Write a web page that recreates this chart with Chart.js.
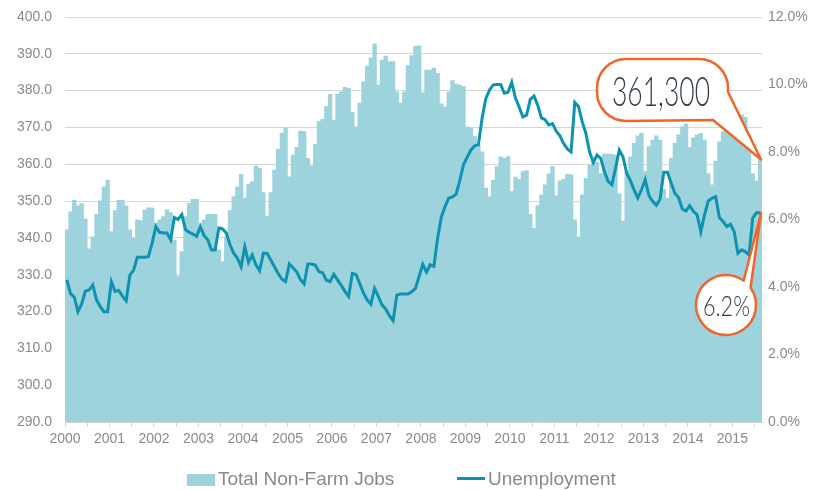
<!DOCTYPE html>
<html>
<head>
<meta charset="utf-8">
<title>Total Non-Farm Jobs and Unemployment</title>
<script src="https://cdn.jsdelivr.net/npm/chart.js@4.4.1/dist/chart.umd.min.js"></script>
<style>
  html, body { margin: 0; padding: 0; background: #fff; }
  canvas { display: block; }
</style>
</head>
<body>
<canvas id="chart" width="839" height="490"></canvas>
<script>
// categories
const years = ['2000', '2001', '2002', '2003', '2004', '2005', '2006', '2007',
               '2008', '2009', '2010', '2011', '2012', '2013', '2014', '2015'];
const months = ['Jan', 'Feb', 'Mar', 'Apr', 'May', 'Jun', 'Jul', 'Aug', 'Sep', 'Oct', 'Nov', 'Dec'];

// total non-farm jobs, thousands (one row per year, Jan..Dec)
const jobs = [
  342.2, 347.1, 350.2, 348.7, 349.3, 345.2, 337.0, 340.3, 346.4, 350.1, 353.9, 355.7,
  341.7, 347.4, 350.2, 350.2, 348.7, 342.2, 339.9, 344.9, 344.7, 347.6, 348.2, 348.2,
  344.0, 344.9, 345.8, 347.6, 346.9, 339.4, 329.7, 336.3, 345.8, 349.4, 350.5, 350.5,
  344.0, 344.9, 346.4, 346.4, 346.4, 336.7, 333.5, 340.3, 347.4, 351.2, 353.9, 357.3,
  350.8, 354.6, 355.3, 359.5, 358.9, 352.3, 345.9, 352.3, 358.4, 364.1, 368.4, 369.9,
  356.6, 362.5, 364.6, 369.0, 368.9, 361.6, 359.5, 365.4, 371.6, 372.2, 375.7, 379.0,
  372.0, 379.0, 379.7, 380.9, 380.6, 374.1, 370.2, 376.6, 382.4, 386.7, 388.9, 392.7,
  381.5, 388.3, 389.4, 387.9, 387.9, 379.7, 376.6, 379.7, 386.8, 389.5, 392.0, 392.2,
  379.5, 385.6, 385.6, 386.1, 384.7, 376.4, 375.6, 379.7, 382.7, 381.8, 381.5, 381.1,
  370.2, 369.9, 367.5, 365.2, 363.4, 353.5, 351.2, 355.7, 359.4, 362.0, 361.6, 362.1,
  352.6, 356.5, 355.9, 358.0, 358.3, 346.4, 342.6, 348.8, 351.7, 354.4, 357.4, 359.4,
  351.5, 355.5, 355.9, 357.3, 357.1, 344.9, 340.3, 351.7, 356.2, 359.8, 360.5, 360.5,
  357.5, 362.8, 362.8, 362.8, 362.5, 352.0, 344.6, 358.0, 362.0, 365.7, 367.7, 368.4,
  358.0, 364.8, 366.6, 367.7, 366.6, 353.2, 350.8, 361.6, 365.7, 368.0, 370.2, 370.9,
  364.5, 367.2, 368.0, 368.4, 366.6, 357.5, 354.4, 360.9, 366.1, 368.9, 369.0, 370.7,
  368.0, 370.0, 373.4, 372.8, 367.7, 357.5, 355.5, 361.3
];

// unemployment rate, percent
const unemployment = [
  4.21, 3.80, 3.70, 3.27, 3.50, 3.88, 3.91, 4.06, 3.62, 3.42, 3.27, 3.27,
  4.16, 3.87, 3.90, 3.73, 3.59, 4.35, 4.50, 4.88, 4.88, 4.88, 4.90, 5.30,
  5.79, 5.62, 5.60, 5.60, 5.40, 6.06, 6.00, 6.15, 5.70, 5.62, 5.57, 5.50,
  5.78, 5.53, 5.40, 5.10, 5.10, 5.75, 5.72, 5.60, 5.25, 5.00, 4.85, 4.60,
  5.19, 4.73, 4.95, 4.66, 4.48, 5.00, 5.00, 4.80, 4.60, 4.40, 4.23, 4.16,
  4.68, 4.57, 4.45, 4.22, 4.09, 4.68, 4.68, 4.65, 4.45, 4.42, 4.20, 4.16,
  4.38, 4.21, 4.05, 3.87, 3.72, 4.40, 4.37, 4.10, 3.82, 3.62, 3.49, 3.96,
  3.72, 3.47, 3.35, 3.15, 3.00, 3.76, 3.79, 3.79, 3.79, 3.86, 3.95, 4.31,
  4.67, 4.44, 4.66, 4.61, 5.44, 6.07, 6.38, 6.63, 6.67, 6.75, 7.16, 7.63,
  7.85, 8.06, 8.18, 8.21, 9.00, 9.58, 9.84, 9.99, 10.00, 10.00, 9.74, 9.77,
  10.07, 9.60, 9.33, 9.04, 9.09, 9.56, 9.66, 9.39, 9.01, 8.96, 8.80, 8.84,
  8.62, 8.48, 8.25, 8.09, 8.00, 9.47, 9.35, 8.90, 8.55, 8.00, 7.69, 7.91,
  7.81, 7.42, 7.13, 7.03, 7.52, 8.06, 7.86, 7.37, 7.15, 6.88, 6.64, 6.88,
  7.18, 6.71, 6.54, 6.42, 6.60, 7.40, 7.40, 7.08, 6.78, 6.65, 6.31, 6.25,
  6.41, 6.24, 6.14, 5.64, 6.14, 6.55, 6.63, 6.68, 6.06, 5.94, 5.79, 5.86,
  5.64, 5.00, 5.10, 5.05, 4.95, 6.04, 6.20, 6.20
];

const labels = [];
years.forEach(y => months.forEach(m => labels.push(m + ' ' + y)));
labels.length = jobs.length;

const barColor = '#9dd3dc';
const lineColor = '#0d93b0';
const orange = '#f0652b';
const axisText = '#8a8a8a';
const calloutText = '#323f48';
const last = jobs.length - 1;

// callout text: "361,300" and "6.2%"
const jobsCallout = Math.round(jobs[last] * 1000).toLocaleString('en-US');
const rateCallout = unemployment[last].toFixed(1) + '%';

function fitText(ctx, text, cx, baseY, size, width) {
  ctx.save();
  ctx.font = '300 ' + size + 'px Lato, Roboto, sans-serif';
  const w = ctx.measureText(text).width;
  ctx.translate(cx, baseY);
  ctx.scale(width / w, 1);
  ctx.textAlign = 'center';
  ctx.textBaseline = 'alphabetic';
  ctx.fillStyle = calloutText;
  ctx.fillText(text, 0, 0);
  ctx.restore();
}

// speech bubbles pointing at the last bar and the last line point
const callouts = {
  id: 'callouts',
  afterDatasetsDraw(chart) {
    const ctx = chart.ctx;
    const bar = chart.getDatasetMeta(1).data[last];
    const pt = chart.getDatasetMeta(0).data[last];
    const tipA = { x: bar.x + bar.width / 2 - 1, y: bar.y };
    const tipB = { x: pt.x + 1, y: pt.y };

    ctx.save();
    ctx.lineWidth = 2.5;
    ctx.strokeStyle = orange;
    ctx.fillStyle = '#fff';
    ctx.lineJoin = 'round';

    // pill with tail
    const x0 = 597, y0 = 59, x1 = 728, y1 = 121, r = 29;
    ctx.beginPath();
    ctx.moveTo(x0 + r, y0);
    ctx.lineTo(x1 - r, y0);
    ctx.arcTo(x1, y0, x1, y0 + r, r);
    ctx.lineTo(x1, 92);
    ctx.lineTo(tipA.x, tipA.y);
    ctx.lineTo(713, y1 - 1);
    ctx.lineTo(x0 + r, y1);
    ctx.arcTo(x0, y1, x0, y1 - r, r);
    ctx.lineTo(x0, y0 + r);
    ctx.arcTo(x0, y0, x0 + r, y0, r);
    ctx.closePath();
    ctx.fill();
    ctx.stroke();

    // circle with tail
    const cx = 726, cy = 305, cr = 30;
    const a1 = -35 * Math.PI / 180, a2 = -54 * Math.PI / 180;
    ctx.beginPath();
    ctx.arc(cx, cy, cr, a1, a2, false);
    ctx.lineTo(tipB.x, tipB.y);
    ctx.closePath();
    ctx.fill();
    ctx.stroke();
    ctx.restore();

    fitText(ctx, jobsCallout, 661, 106, 42, 98);
    fitText(ctx, rateCallout, 726.5, 316, 28, 47);
  }
};

// legend under the axis
const bottomLegend = {
  id: 'bottomLegend',
  afterDraw(chart) {
    const ctx = chart.ctx;
    const ds = chart.data.datasets;
    ctx.save();
    ctx.font = '19px "Liberation Sans", Arial, sans-serif';
    ctx.textBaseline = 'alphabetic';
    ctx.fillStyle = ds[1].backgroundColor;
    ctx.fillRect(187, 474, 28, 12);
    ctx.fillStyle = axisText;
    ctx.fillText(ds[1].label, 218, 485);
    ctx.strokeStyle = ds[0].borderColor;
    ctx.lineWidth = 3;
    ctx.beginPath();
    ctx.moveTo(457, 478.5);
    ctx.lineTo(485, 478.5);
    ctx.stroke();
    ctx.fillText(ds[0].label, 488, 485);
    ctx.restore();
  }
};

// fixed axis sizes so the plot area sits where the reference has it
function fixVertical(width) {
  return (s) => {
    s.width = width;
    s.paddingTop = 0;
    s.paddingBottom = 0;
  };
}

const config = {
  data: {
    labels: labels,
    datasets: [{
      type: 'line',
      label: 'Unemployment',
      data: unemployment,
      yAxisID: 'y1',
      borderColor: lineColor,
      borderWidth: 3,
      pointRadius: 0,
      tension: 0,
      order: 0
    }, {
      type: 'bar',
      label: 'Total Non-Farm Jobs',
      data: jobs,
      yAxisID: 'y',
      backgroundColor: barColor,
      borderWidth: 0,
      categoryPercentage: 1,
      barPercentage: 1,
      order: 1
    }]
  },
  options: {
    responsive: false,
    devicePixelRatio: 1,
    animation: false,
    layout: { padding: { top: 17, left: 0, right: 0, bottom: 0 } },
    plugins: {
      legend: { display: false },
      tooltip: { enabled: false }
    },
    scales: {
      x: {
        afterFit: (s) => { s.height = 68; },
        grid: {
          drawOnChartArea: false,
          tickLength: 5,
          color: (c) => (c.index % 6 === 0 ? '#d4d4d4' : 'rgba(0,0,0,0)')
        },
        border: { display: true, color: '#d4d4d4' },
        ticks: {
          autoSkip: false,
          maxRotation: 0,
          minRotation: 0,
          padding: 4,
          labelOffset: -1.85,
          color: axisText,
          font: { family: '"Liberation Sans", Arial, sans-serif', size: 14 },
          callback: (v, i) => (i % 12 === 0 ? years[i / 12] : '')
        }
      },
      y: {
        position: 'left',
        min: 290,
        max: 400,
        afterFit: fixVertical(65),
        grid: { color: '#d6d6d6', drawTicks: false },
        border: { display: false },
        ticks: {
          stepSize: 10,
          padding: 13,
          color: axisText,
          font: { family: '"Liberation Sans", Arial, sans-serif', size: 14 },
          callback: (v) => v.toFixed(1)
        }
      },
      y1: {
        position: 'right',
        min: 0,
        max: 12,
        afterFit: fixVertical(77),
        grid: { drawOnChartArea: false, drawTicks: false },
        border: { display: false },
        ticks: {
          stepSize: 2,
          padding: 6,
          color: axisText,
          font: { family: '"Liberation Sans", Arial, sans-serif', size: 14 },
          callback: (v) => v.toFixed(1) + '%'
        }
      }
    }
  },
  plugins: [callouts, bottomLegend]
};

const chart = new Chart(document.getElementById('chart').getContext('2d'), config);
</script>
</body>
</html>
